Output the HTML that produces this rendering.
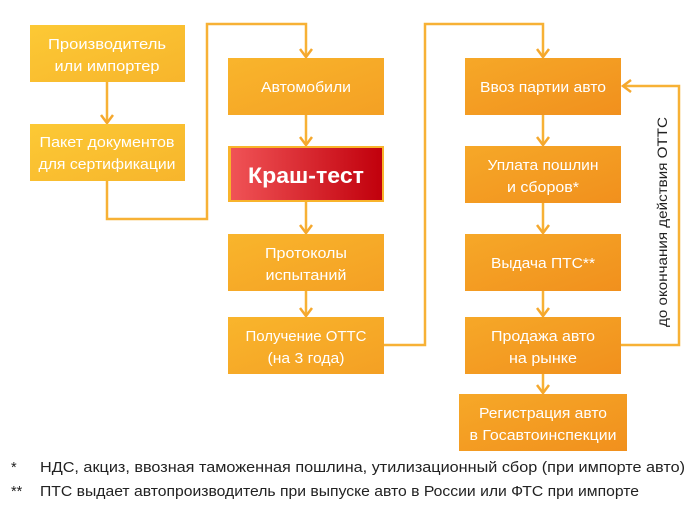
<!DOCTYPE html>
<html><head><meta charset="utf-8"><style>
html,body{margin:0;padding:0;background:#fff;width:700px;height:525px;overflow:hidden}
svg{display:block}
text{font-family:"Liberation Sans","DejaVu Sans",sans-serif}
</style></head><body>
<svg width="700" height="525" viewBox="0 0 700 525" xmlns="http://www.w3.org/2000/svg">
<defs>
<linearGradient id="gy" x1="0" y1="0" x2="1" y2="1"><stop offset="0" stop-color="#fcc935"/><stop offset="1" stop-color="#f7b52c"/></linearGradient>
<linearGradient id="gm" x1="0" y1="0" x2="1" y2="1"><stop offset="0" stop-color="#f9b52c"/><stop offset="1" stop-color="#f4a024"/></linearGradient>
<linearGradient id="go" x1="0" y1="0" x2="1" y2="1"><stop offset="0" stop-color="#f6a828"/><stop offset="1" stop-color="#f1901d"/></linearGradient>
<linearGradient id="gr" x1="0" y1="0" x2="1" y2="0"><stop offset="0" stop-color="#f05356"/><stop offset="1" stop-color="#c1000c"/></linearGradient>
</defs>
<g fill="none" stroke="#f7b135" stroke-width="2.5">
<path d="M107,82 V123"/>
<path d="M107,181 V219 H207 V24 H306 V57"/>
<path d="M306,115 V145"/>
<path d="M306,201 V233"/>
<path d="M306,291 V316"/>
<path d="M384,345 H425 V24 H543 V57"/>
<path d="M543,115 V145"/>
<path d="M543,203 V233"/>
<path d="M543,291 V316"/>
<path d="M543,374 V393"/>
<path d="M621,345 H679 V86 H623"/>
</g>
<g fill="none" stroke="#f5a82d" stroke-width="2.5" stroke-linejoin="miter">
<path d="M101,115 L107,123 L113,115"/>
<path d="M300,49 L306,57 L312,49"/>
<path d="M300,137 L306,145 L312,137"/>
<path d="M300,225 L306,233 L312,225"/>
<path d="M300,308 L306,316 L312,308"/>
<path d="M537,49 L543,57 L549,49"/>
<path d="M537,137 L543,145 L549,137"/>
<path d="M537,225 L543,233 L549,225"/>
<path d="M537,308 L543,316 L549,308"/>
<path d="M537,385 L543,393 L549,385"/>
<path d="M631,80 L623,86 L631,92"/>
</g>
<rect x="30" y="25" width="155" height="57" fill="url(#gy)"/>
<rect x="30" y="124" width="155" height="57" fill="url(#gy)"/>
<rect x="228" y="58" width="156" height="57" fill="url(#gm)"/>
<rect x="228" y="146" width="156" height="56" fill="#f8b42c"/>
<rect x="231" y="148" width="151" height="52" fill="url(#gr)"/>
<rect x="228" y="234" width="156" height="57" fill="url(#gm)"/>
<rect x="228" y="317" width="156" height="57" fill="url(#gm)"/>
<rect x="465" y="58" width="156" height="57" fill="url(#go)"/>
<rect x="465" y="146" width="156" height="57" fill="url(#go)"/>
<rect x="465" y="234" width="156" height="57" fill="url(#go)"/>
<rect x="465" y="317" width="156" height="57" fill="url(#go)"/>
<rect x="459" y="394" width="168" height="57" fill="url(#go)"/>
<g fill="#fff" font-size="15" text-anchor="middle">
<text x="107" y="49" textLength="118" lengthAdjust="spacingAndGlyphs">Производитель</text>
<text x="107" y="71" textLength="105" lengthAdjust="spacingAndGlyphs">или импортер</text>
<text x="107" y="147" textLength="135" lengthAdjust="spacingAndGlyphs">Пакет документов</text>
<text x="107" y="169" textLength="137" lengthAdjust="spacingAndGlyphs">для сертификации</text>
<text x="306" y="92" textLength="90" lengthAdjust="spacingAndGlyphs">Автомобили</text>
<text x="306" y="258" textLength="82" lengthAdjust="spacingAndGlyphs">Протоколы</text>
<text x="306" y="280" textLength="81" lengthAdjust="spacingAndGlyphs">испытаний</text>
<text x="306" y="341" textLength="121" lengthAdjust="spacingAndGlyphs">Получение ОТТС</text>
<text x="306" y="363" textLength="77" lengthAdjust="spacingAndGlyphs">(на 3 года)</text>
<text x="543" y="92" textLength="126" lengthAdjust="spacingAndGlyphs">Ввоз партии авто</text>
<text x="543" y="170" textLength="111" lengthAdjust="spacingAndGlyphs">Уплата пошлин</text>
<text x="543" y="192" textLength="72" lengthAdjust="spacingAndGlyphs">и сборов*</text>
<text x="543" y="268" textLength="104" lengthAdjust="spacingAndGlyphs">Выдача ПТС**</text>
<text x="543" y="341" textLength="104" lengthAdjust="spacingAndGlyphs">Продажа авто</text>
<text x="543" y="363" textLength="68" lengthAdjust="spacingAndGlyphs">на рынке</text>
<text x="543" y="418" textLength="128" lengthAdjust="spacingAndGlyphs">Регистрация авто</text>
<text x="543" y="440" textLength="147" lengthAdjust="spacingAndGlyphs">в Госавтоинспекции</text>
<text x="306" y="183" font-size="22" font-weight="bold" textLength="116" lengthAdjust="spacingAndGlyphs">Краш-тест</text>
</g>
<text x="667" y="222" font-size="14" fill="#222" text-anchor="middle" transform="rotate(-90 667 222)" textLength="210" lengthAdjust="spacingAndGlyphs">до окончания действия ОТТС</text>
<g fill="#222" font-size="14.5">
<text x="11" y="472">*</text>
<text x="40" y="472" textLength="645" lengthAdjust="spacingAndGlyphs">НДС, акциз,  ввозная таможенная пошлина, утилизационный сбор  (при импорте авто)</text>
<text x="11" y="496">**</text>
<text x="40" y="496" textLength="599" lengthAdjust="spacingAndGlyphs">ПТС выдает автопроизводитель при выпуске авто в России или ФТС при импорте</text>
</g>
</svg>
</body></html>
